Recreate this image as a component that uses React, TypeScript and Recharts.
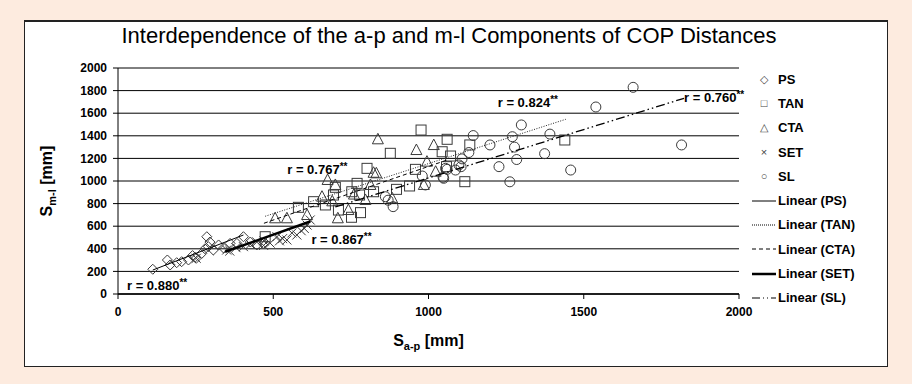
import React from 'react';
import { ScatterChart, Scatter, XAxis, YAxis, CartesianGrid, ReferenceDot, Label } from 'recharts';

const xTicks = [0, 500, 1000, 1500, 2000];
const yTicks = [0, 200, 400, 600, 800, 1000, 1200, 1400, 1600, 1800, 2000];

// [S a-p, S m-l] in mm
const psPoints = [
  [112, 219], [159, 301], [168, 257], [189, 277], [205, 286], [227, 301], [240, 340], [248, 325],
  [252, 316], [270, 360], [280, 400], [286, 507], [291, 419], [296, 460], [307, 389], [324, 434],
  [340, 407], [361, 448], [383, 448], [404, 507], [426, 460], [447, 434], [469, 448],
];
const tanPoints = [
  [474, 507], [581, 767], [630, 817], [668, 788], [694, 876], [700, 944], [710, 743], [752, 679],
  [753, 905], [770, 979], [778, 876], [781, 720], [802, 1112], [823, 905], [877, 1245], [897, 926],
  [939, 956], [958, 1103], [976, 1451], [1044, 1259], [1060, 1369], [1071, 1221], [1133, 1319],
  [1117, 994], [1058, 1127], [1439, 1363],
];
const ctaPoints = [
  [506, 670], [544, 670], [609, 699], [657, 861], [675, 1009], [700, 965], [708, 670], [742, 743],
  [797, 832], [813, 965], [823, 1073], [832, 1068], [837, 1369], [883, 847], [961, 1274], [985, 965],
  [995, 1171], [1017, 1318], [1023, 1082], [760, 880], [690, 820],
];
const setPoints = [
  [252, 316], [350, 389], [360, 380], [380, 410], [404, 419], [426, 440], [447, 460], [469, 430],
  [470, 470], [490, 450], [512, 507], [520, 470], [530, 490], [544, 478], [560, 540], [576, 522],
  [590, 560], [600, 580], [609, 610], [619, 655],
];
const slPoints = [
  [1659, 1829], [1539, 1655], [1299, 1496], [1391, 1415], [1144, 1402], [1270, 1392], [1198, 1319],
  [1815, 1319], [1277, 1300], [1374, 1242], [1130, 1252], [1108, 1196], [1284, 1190], [1227, 1127],
  [1458, 1097], [1105, 1127], [1087, 1097], [1060, 1103], [1098, 1142], [1047, 1033], [1262, 993],
  [990, 965], [980, 1044], [1049, 1024], [861, 861], [886, 773], [870, 830], [1055, 1112],
];

// fitted lines: start and end points
const psTrend = [[112, 212], [404, 522]];
const tanTrend = [[474, 688], [1442, 1546]];
const ctaTrend = [[470, 626], [1060, 1186]];
const setTrend = [[345, 374], [619, 642]];
const slTrend = [[700, 770], [1823, 1732]];

const rLabels = [
  { x: 29, y: 35, text: 'r = 0.880' },
  { x: 623, y: 442, text: 'r = 0.867' },
  { x: 545, y: 1062, text: 'r = 0.767' },
  { x: 1223, y: 1655, text: 'r = 0.824' },
  { x: 1823, y: 1699, text: 'r = 0.760' },
];

const toObj = (pts: number[][]) => pts.map(([x, y]) => ({ x, y }));

const FONT = '"Liberation Sans", Arial, sans-serif';
const MK = '#3a3a3a';

const Diamond = ({ cx, cy }: any) => (
  <path d={`M${cx},${cy - 5}L${cx + 5},${cy}L${cx},${cy + 5}L${cx - 5},${cy}Z`} fill="none" stroke={MK} />
);
const Square = ({ cx, cy }: any) => (
  <rect x={cx - 5} y={cy - 5} width={10} height={10} fill="none" stroke={MK} />
);
const Triangle = ({ cx, cy }: any) => (
  <path d={`M${cx},${cy - 6}L${cx + 5.5},${cy + 4.5}L${cx - 5.5},${cy + 4.5}Z`} fill="none" stroke={MK} />
);
const Cross = ({ cx, cy }: any) => (
  <path d={`M${cx - 4.5},${cy - 4.5}L${cx + 4.5},${cy + 4.5}M${cx + 4.5},${cy - 4.5}L${cx - 4.5},${cy + 4.5}`} stroke={MK} />
);
const Circle = ({ cx, cy }: any) => <circle cx={cx} cy={cy} r={5} fill="none" stroke={MK} />;
const NoShape = () => <g />;

const legendMarkers = [
  { name: 'PS', symbol: '◇' },
  { name: 'TAN', symbol: '□' },
  { name: 'CTA', symbol: '△' },
  { name: 'SET', symbol: '×' },
  { name: 'SL', symbol: '○' },
];
const legendLines = [
  { name: 'Linear (PS)', dash: '', width: 1 },
  { name: 'Linear (TAN)', dash: '1 1', width: 1 },
  { name: 'Linear (CTA)', dash: '4 3', width: 1 },
  { name: 'Linear (SET)', dash: '', width: 2.5 },
  { name: 'Linear (SL)', dash: '8 3 1 3 1 3', width: 1.2 },
];

const RLabel = ({ viewBox, text }: any) => (
  <text x={viewBox.x} y={viewBox.y} fontFamily={FONT} fontWeight="bold" fontSize={13} fill="#000">
    {text}
    <tspan fontSize={10} dy={-4}>**</tspan>
  </text>
);

export default function App() {
  return (
    <div style={{ position: 'absolute', left: 0, top: 0, width: 912, height: 384, background: '#fdebdf', fontFamily: FONT }}>
      <div
        style={{
          position: 'absolute', left: 24, top: 20, width: 862, height: 344,
          background: '#fff', border: '1px solid #222', borderTop: '2px solid #222',
        }}
      />
      <div style={{ position: 'absolute', left: 24, top: 23, width: 850, textAlign: 'center', fontSize: 22, color: '#000' }}>
        Interdependence of the a-p and m-l Components of COP Distances
      </div>
      <div style={{ position: 'absolute', left: 0, top: 0 }}>
        <ScatterChart width={912} height={384} margin={{ top: 68, right: 173, left: 58, bottom: 60 }}>
          <CartesianGrid vertical={false} stroke="#000" strokeWidth={1} />
          <XAxis
            type="number"
            dataKey="x"
            domain={[0, 2000]}
            ticks={xTicks}
            height={30}
            tick={{ fontSize: 12, fontWeight: 'bold', fill: '#000', fontFamily: FONT }}
            tickSize={5}
            axisLine={{ stroke: '#000', strokeWidth: 1.5 }}
            tickLine={{ stroke: '#000' }}
            tickMargin={8}
          >
            <Label
              content={({ viewBox }: any) => (
                <text x={viewBox.x + viewBox.width / 2} y={viewBox.y + 52} textAnchor="middle" fontFamily={FONT} fontWeight="bold" fontSize={16}>
                  S<tspan fontSize={11} dy={4}>a-p</tspan>
                  <tspan dy={-4}> [mm]</tspan>
                </text>
              )}
            />
          </XAxis>
          <YAxis
            type="number"
            dataKey="y"
            domain={[0, 2000]}
            ticks={yTicks}
            width={60}
            interval={0}
            tick={{ fontSize: 12, fontWeight: 'bold', fill: '#000', fontFamily: FONT }}
            tickSize={5}
            tickMargin={6}
            axisLine={{ stroke: '#000' }}
            tickLine={{ stroke: '#000' }}
          >
            <Label
              content={({ viewBox }: any) => {
                const cx = viewBox.x - 6;
                const cy = viewBox.y + viewBox.height / 2;
                return (
                  <text x={cx} y={cy} transform={`rotate(-90 ${cx} ${cy})`} textAnchor="middle" fontFamily={FONT} fontWeight="bold" fontSize={16}>
                    S<tspan fontSize={11} dy={4}>m-l</tspan>
                    <tspan dy={-4}> [mm]</tspan>
                  </text>
                );
              }}
            />
          </YAxis>

          <Scatter data={toObj(psPoints)} shape={Diamond} isAnimationActive={false} />
          <Scatter data={toObj(tanPoints)} shape={Square} isAnimationActive={false} />
          <Scatter data={toObj(ctaPoints)} shape={Triangle} isAnimationActive={false} />
          <Scatter data={toObj(setPoints)} shape={Cross} isAnimationActive={false} />
          <Scatter data={toObj(slPoints)} shape={Circle} isAnimationActive={false} />

          <Scatter data={toObj(psTrend)} line={{ stroke: '#000', strokeWidth: 1 }} shape={NoShape} isAnimationActive={false} />
          <Scatter data={toObj(tanTrend)} line={{ stroke: '#222', strokeWidth: 1, strokeDasharray: '1 1.5' }} shape={NoShape} isAnimationActive={false} />
          <Scatter data={toObj(ctaTrend)} line={{ stroke: '#000', strokeWidth: 1, strokeDasharray: '4 3' }} shape={NoShape} isAnimationActive={false} />
          <Scatter data={toObj(setTrend)} line={{ stroke: '#000', strokeWidth: 2.5 }} shape={NoShape} isAnimationActive={false} />
          <Scatter data={toObj(slTrend)} line={{ stroke: '#000', strokeWidth: 1.3, strokeDasharray: '9 3 1.5 3 1.5 3' }} shape={NoShape} isAnimationActive={false} />

          {rLabels.map((r) => (
            <ReferenceDot key={r.text} x={r.x} y={r.y} r={0} fill="none" stroke="none" label={<RLabel text={r.text} />} />
          ))}
        </ScatterChart>
      </div>
      <div style={{ position: 'absolute', left: 750, top: 67, width: 130, fontSize: 13, fontWeight: 'bold', color: '#000' }}>
        {legendMarkers.map((m) => (
          <div key={m.name} style={{ height: 24.3, display: 'flex', alignItems: 'center' }}>
            <span style={{ width: 28, textAlign: 'center', fontWeight: 'normal', fontSize: 11, color: '#444' }}>{m.symbol}</span>
            <span>{m.name}</span>
          </div>
        ))}
        {legendLines.map((l) => (
          <div key={l.name} style={{ height: 24.3, display: 'flex', alignItems: 'center' }}>
            <svg width={28} height={10}>
              <line x1={2} y1={5} x2={26} y2={5} stroke="#000" strokeWidth={l.width} strokeDasharray={l.dash || undefined} />
            </svg>
            <span>{l.name}</span>
          </div>
        ))}
      </div>
    </div>
  );
}
